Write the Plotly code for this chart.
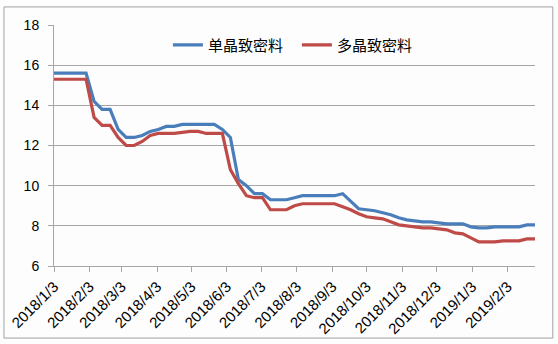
import pandas as pd
import plotly.graph_objects as go

# Weekly price observations, 2018-01-03 .. 2019-02-27
dates = pd.date_range("2018-01-03", periods=61, freq="7D")

mono_dense = [
    15.6, 15.6, 15.6, 15.6, 15.6, 14.2, 13.8, 13.8, 12.8, 12.4,
    12.4, 12.5, 12.7, 12.8, 12.95, 12.95, 13.05, 13.05, 13.05, 13.05,
    13.05, 12.8, 12.4, 10.3, 10.0, 9.6, 9.6, 9.3, 9.3, 9.3,
    9.4, 9.5, 9.5, 9.5, 9.5, 9.5, 9.6, 9.2, 8.85, 8.8,
    8.75, 8.65, 8.55, 8.4, 8.3, 8.25, 8.2, 8.2, 8.15, 8.1,
    8.1, 8.1, 7.95, 7.9, 7.9, 7.95, 7.95, 7.95, 7.95, 8.05,
    8.05,
]
poly_dense = [
    15.3, 15.3, 15.3, 15.3, 15.3, 13.4, 13.0, 13.0, 12.4, 12.0,
    12.0, 12.2, 12.5, 12.6, 12.6, 12.6, 12.65, 12.7, 12.7, 12.6,
    12.6, 12.6, 10.8, 10.1, 9.5, 9.4, 9.4, 8.8, 8.8, 8.8,
    9.0, 9.1, 9.1, 9.1, 9.1, 9.1, 8.95, 8.8, 8.6, 8.45,
    8.4, 8.35, 8.2, 8.05, 8.0, 7.95, 7.9, 7.9, 7.85, 7.8,
    7.65, 7.6, 7.4, 7.2, 7.2, 7.2, 7.25, 7.25, 7.25, 7.35,
    7.35,
]
series_names = ["单晶致密料", "多晶致密料"]
series_colors = ["#4A7EBB", "#BE4B48"]

tick_dates = pd.date_range("2018-01-03", periods=14, freq=pd.DateOffset(months=1))
tick_labels = [f"{d.year}/{d.month}/{d.day}" for d in tick_dates]

y_ticks = [6, 8, 10, 12, 14, 16, 18]

fig = go.Figure()
for name, vals, color in zip(series_names, [mono_dense, poly_dense], series_colors):
    fig.add_trace(go.Scatter(
        x=dates, y=vals, mode="lines", name=name,
        line=dict(color=color, width=3.2),
    ))

grid_color = "#A6A6A6"
fig.update_layout(
    width=558, height=344,
    margin=dict(l=54, r=23, t=25, b=78),
    paper_bgcolor="#FDFDFD",
    plot_bgcolor="#FDFDFD",
    font=dict(family="Liberation Sans, Arial, sans-serif", size=13, color="#000000"),
    showlegend=True,
    legend=dict(
        orientation="h", x=0.505, xanchor="center", y=0.985, yanchor="top",
        bgcolor="rgba(0,0,0,0)",
        font=dict(family="Noto Sans CJK SC", size=15, color="#000000"),
        entrywidth=84, entrywidthmode="pixels",
        itemwidth=30,
    ),
    xaxis=dict(
        type="date",
        range=[dates[0], dates[-1]],
        tickvals=tick_dates, ticktext=tick_labels,
        tickangle=-45,
        tickfont=dict(size=15),
        automargin=False,
        showgrid=False,
        showline=True, linecolor=grid_color, linewidth=1,
        ticks="outside", ticklen=5, tickcolor=grid_color,
        zeroline=False,
    ),
    yaxis=dict(
        range=[6, 18],
        tickvals=y_ticks,
        tickfont=dict(size=14),
        ticklabelstandoff=6,
        automargin=False,
        showgrid=True, gridcolor=grid_color, gridwidth=1,
        showline=True, linecolor=grid_color, linewidth=1,
        ticks="outside", ticklen=5, tickcolor=grid_color,
        zeroline=False,
    ),
    shapes=[
        dict(type="rect", xref="paper", yref="paper",
             x0=-0.104, x1=1.037, y0=-0.299, y1=1.075,
             line=dict(color="#A0A0A0", width=1), fillcolor="rgba(0,0,0,0)",
             layer="below"),
    ],
)

fig.write_html("out.html")
